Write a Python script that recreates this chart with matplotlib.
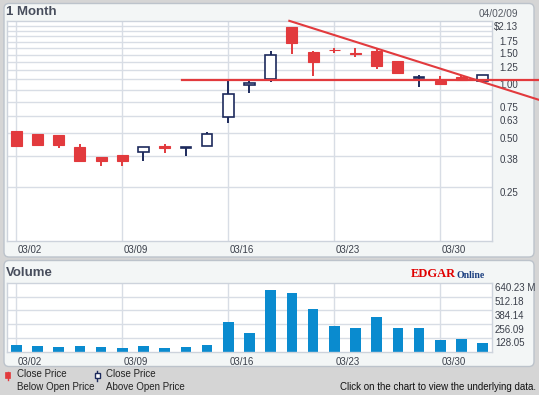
import matplotlib
matplotlib.use('Agg')
import matplotlib.pyplot as plt
from matplotlib.patches import FancyBboxPatch, Rectangle
from matplotlib.lines import Line2D
from matplotlib.transforms import IdentityTransform

# 23 trading days, 03/02/09 .. 04/01/09
opens = [0.557, 0.536, 0.529, 0.453, 0.399, 0.409, 0.424, 0.459, 0.448, 0.457, 0.664, 1.007,
         1.088, 2.13, 1.534, 1.585, 1.515, 1.56, 1.372, 1.105, 1.055, 1.12, 1.062]
closes = [0.455, 0.461, 0.461, 0.375, 0.375, 0.375, 0.453, 0.444, 0.450, 0.534, 0.893, 1.034,
          1.475, 1.736, 1.359, 1.578, 1.508, 1.291, 1.18, 1.112, 1.02, 1.074, 1.145]
highs = [0.557, 0.536, 0.529, 0.471, 0.399, 0.409, 0.453, 0.471, 0.450, 0.550, 1.074, 1.074,
         1.56, 2.13, 1.56, 1.627, 1.615, 1.593, 1.372, 1.145, 1.135, 1.15, 1.145]
lows = [0.455, 0.461, 0.444, 0.375, 0.356, 0.356, 0.375, 0.421, 0.400, 0.457, 0.612, 0.905,
        1.05, 1.507, 1.131, 1.514, 1.438, 1.237, 1.18, 0.985, 1.01, 1.07, 1.05]
volumes = [64, 55, 46, 55, 46, 37, 55, 37, 46, 64, 280, 174, 576, 549, 402, 238, 220, 320,
           220, 220, 110, 119, 82]  # millions

date_pos = [0, 5, 10, 15, 20]
date_labels = ['03/02', '03/09', '03/16', '03/23', '03/30']
price_ticks = [2.13, 1.75, 1.50, 1.25, 1.00, 0.75, 0.63, 0.50, 0.38, 0.25]
price_labels = ['$2.13', '1.75', '1.50', '1.25', '1.00', '0.75', '0.63', '0.50', '0.38', '0.25']
vol_ticks = [128.05, 256.09, 384.14, 512.18, 640.23]
vol_labels = ['128.05', '256.09', '384.14', '512.18', '640.23 M']

# drawn trend lines (day index, price)
support_level = 1.074
support_x = [7.82, 24.66]
trend_x = [12.88, 24.66]
trend_y = [2.30, 0.83]

W, H = 539, 395
RED = '#e23a3d'
NAVY = '#1d2a5c'
BLUE = '#0a8bcf'
GRID = '#d8dde5'
TXT = '#3a3f4a'
FONT = 'Liberation Sans'


def px_axes(fig, x0, y0, x1, y1):
    return fig.add_axes([x0 / W, 1 - y1 / H, (x1 - x0) / W, (y1 - y0) / H])


def panel(fig, x0, y0, x1, y1):
    box = FancyBboxPatch((x0, H - y1), x1 - x0, y1 - y0,
                         boxstyle='round,pad=0,rounding_size=5',
                         transform=IdentityTransform(), facecolor='#f3f6f6',
                         edgecolor='#bcc3cb', linewidth=1.0, zorder=-5)
    fig.patches.append(box)


def style_axes(ax):
    ax.set_facecolor('white')
    for s in ax.spines.values():
        s.set_color('#cdd3dc')
        s.set_linewidth(1.0)
    ax.set_xticks([])
    ax.set_yticks([])
    ax.minorticks_off()
    ax.set_xlim(-0.46, 22.44)
    for p in date_pos:
        ax.axvline(p, color=GRID, lw=1.0, zorder=0)


def price_chart(fig):
    ax = px_axes(fig, 6.5, 21, 492, 240.7)
    style_axes(ax)
    ax.set_yscale('log')
    ax.set_ylim(0.135, 2.295)
    ax.set_yticks([])
    ax.set_yticks([], minor=True)
    for k in range(2, 17):
        ax.axhline(k * 0.135, color=GRID, lw=1.0, zorder=0)

    days = range(len(opens))
    for d in days:
        o, c = opens[d], closes[d]
        col = RED if c < o else NAVY
        ax.vlines(d, lows[d], highs[d], color=col, lw=1.4, zorder=2)
        lo, hi = min(o, c), max(o, c)
        if c < o:
            ax.bar(d, hi - lo, bottom=lo, width=0.52, color=RED, edgecolor=RED,
                   lw=0.8, zorder=3)
        else:
            ax.bar(d, hi - lo, bottom=lo, width=0.5, facecolor='white', edgecolor=NAVY,
                   lw=1.2, zorder=3)

    ax.plot(support_x, [support_level, support_level], color=RED, lw=1.6,
            clip_on=False, zorder=4)
    ax.plot(trend_x, trend_y, color=RED, lw=1.5, clip_on=False, zorder=4)

    ty = ax.get_yaxis_transform()
    for v, lab in zip(price_ticks, price_labels):
        ax.text(1.0536, v, lab, transform=ty, ha='right', va='center',
                fontsize=7, color=TXT, family=FONT)
    tx = ax.get_xaxis_transform()
    for p, lab in zip(date_pos, date_labels):
        ax.text(p + 0.07, -0.043, lab, transform=tx, ha='left', va='center',
                fontsize=7, color=TXT, family=FONT)
    return ax


def volume_chart(fig):
    ax = px_axes(fig, 6.5, 283, 492, 351.7)
    style_axes(ax)
    ax.set_ylim(0, 640.23)
    for v in vol_ticks[:-1]:
        ax.axhline(v, color=GRID, lw=1.0, zorder=0)
    ax.bar(range(len(volumes)), volumes, width=0.5, color=BLUE, zorder=2)

    ty = ax.get_yaxis_transform()
    for v, lab in zip(vol_ticks, vol_labels):
        ax.text(1.006, v - 50, lab, transform=ty, ha='left', va='center',
                fontsize=7, color=TXT, family=FONT)
    tx = ax.get_xaxis_transform()
    for p, lab in zip(date_pos, date_labels):
        ax.text(p + 0.05, -0.146, lab, transform=tx, ha='left', va='center',
                fontsize=7, color=TXT, family=FONT)
    return ax


def decorations(fig, ax):
    fig.text(6.5 / W, 1 - 12 / H, '1 Month', fontsize=9.5, fontweight='bold',
             color='#474d5c', family=FONT, va='center', ha='left')
    fig.text(518 / W, 1 - 14 / H, '04/02/09', fontsize=7.3, color='#555a63',
             family=FONT, va='center', ha='right')
    fig.text(6.2 / W, 1 - 273 / H, 'Volume', fontsize=9.5, fontweight='bold',
             color='#474d5c', family=FONT, va='center', ha='left')

    edgar = fig.text(411 / W, 1 - 277 / H, 'EDGAR', fontsize=9, fontweight='bold',
                     color='#e00000', family='Liberation Serif', va='baseline', ha='left')
    ax.annotate('Online', xy=(1, 0), xycoords=edgar, xytext=(0.5, 0),
                textcoords='offset points', fontsize=7, fontweight='bold',
                color='#1b3f80', family='Liberation Serif', va='bottom', ha='left',
                annotation_clip=False)

    # legend icons
    idt = IdentityTransform()
    fig.patches.append(Rectangle((5, H - 378), 5, 6, facecolor=RED, edgecolor=RED,
                                 lw=0.5, transform=idt))
    fig.lines.append(Line2D([7.5, 7.5], [H - 380, H - 372], color=RED, lw=1.0,
                            transform=idt))
    fig.lines.append(Line2D([97, 97], [H - 380.5, H - 370.5], color=NAVY, lw=1.0,
                            transform=idt))
    fig.patches.append(Rectangle((95, H - 378), 4.5, 5, facecolor='white', edgecolor=NAVY,
                                 lw=1.0, transform=idt, zorder=3))
    fig.text(16.7 / W, 1 - 374.3 / H, 'Close Price', fontsize=7, color='#222',
             family=FONT, va='center')
    fig.text(16.7 / W, 1 - 386.5 / H, 'Below Open Price', fontsize=7, color='#222',
             family=FONT, va='center')
    fig.text(105.5 / W, 1 - 374.3 / H, 'Close Price', fontsize=7, color='#222',
             family=FONT, va='center')
    fig.text(105.5 / W, 1 - 386.5 / H, 'Above Open Price', fontsize=7, color='#222',
             family=FONT, va='center')
    fig.text(536 / W, 1 - 387 / H, 'Click on the chart to view the underlying data.',
             fontsize=7, color='#111', family=FONT, va='center', ha='right')


def main():
    fig = plt.figure(figsize=(W / 100, H / 100), dpi=100, facecolor='#d5d5d5')
    panel(fig, 4, 3.5, 534, 257)
    panel(fig, 4, 260.5, 534, 366.5)
    price_chart(fig)
    vol_ax = volume_chart(fig)
    decorations(fig, vol_ax)
    fig.savefig('out.png', dpi=100, facecolor=fig.get_facecolor())


if __name__ == "__main__":
    main()
